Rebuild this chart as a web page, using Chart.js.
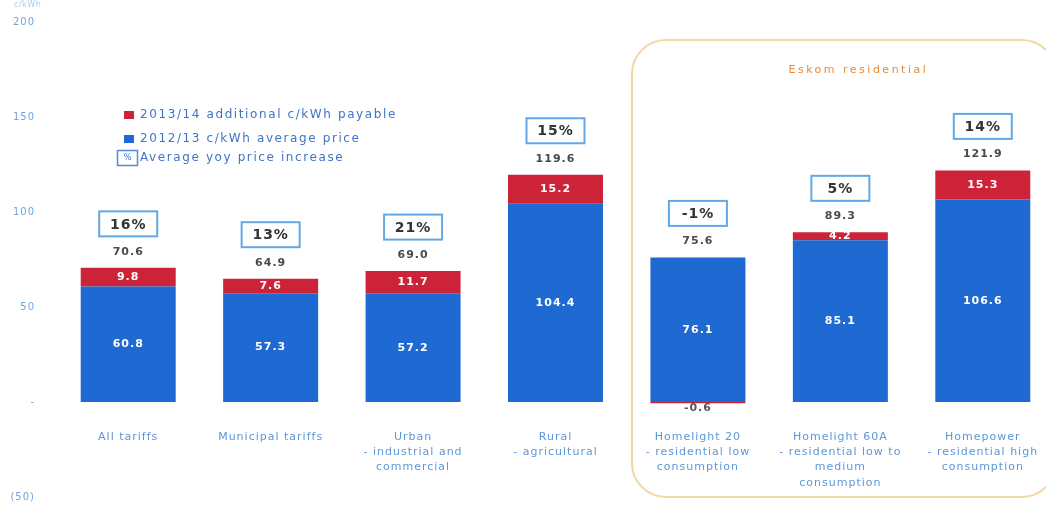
<!DOCTYPE html>
<html><head><meta charset="utf-8">
<script src="https://cdn.jsdelivr.net/npm/chart.js@4"></script>
<style>
html,body{margin:0;padding:0;background:#fff;overflow:hidden;width:1046px;height:505px}
#wrap{position:relative;width:1060px;height:505px}
</style></head>
<body><div id="wrap"><canvas id="c" width="1060" height="505"></canvas></div>
<script>
// ---- data ----
const categories = [
  ["All tariffs"],
  ["Municipal tariffs"],
  ["Urban", "- industrial and", "commercial"],
  ["Rural", "- agricultural"],
  ["Homelight 20", "- residential low", "consumption"],
  ["Homelight 60A", "- residential low to", "medium", "consumption"],
  ["Homepower", "- residential high", "consumption"]
];
const base2012 = [60.8, 57.3, 57.2, 104.4, 76.1, 85.1, 106.6];
const extra2013 = [9.8, 7.6, 11.7, 15.2, -0.6, 4.2, 15.3];
const totals = [70.6, 64.9, 69.0, 119.6, 75.6, 89.3, 121.9];
const yoyIncrease = ["16%", "13%", "21%", "15%", "-1%", "5%", "14%"];
const yTickLabels = {"-50": "(50)", "0": "-", "50": "50", "100": "100", "150": "150", "200": "200"};
const legendLabels = ["2013/14 additional c/kWh payable", "2012/13 c/kWh average price", "Average yoy price increase"];
const groupTitle = "Eskom residential";
const unitLabel = "c/kWh";

const BLUE = '#1e69d2', RED = '#cd2338', FONT = '"DejaVu Sans"';

const annot = {
  id: 'annot',
  beforeDraw(chart) {
    const c = chart.ctx, xs = chart.scales.x;
    c.save();
    const left = xs.getPixelForValue(4) - 66;
    c.strokeStyle = '#efd8a4'; c.lineWidth = 2;
    c.beginPath(); c.roundRect(left, 40, 1056 - left, 457, 34); c.stroke();
    c.letterSpacing = '2.5px'; c.fillStyle = '#ea8a33';
    c.font = '11px ' + FONT; c.textAlign = 'center'; c.textBaseline = 'middle';
    c.fillText(groupTitle, (xs.getPixelForValue(5)) + 18, 70);
    c.letterSpacing = '0.5px'; c.fillStyle = '#b3cdee'; c.font = '8px ' + FONT; c.textAlign = 'left';
    c.fillText(unitLabel, 14, 5);
    c.restore();
    c.letterSpacing = '1px';
  },
  afterDatasetsDraw(chart) {
    const c = chart.ctx;
    const m0 = chart.getDatasetMeta(0), m1 = chart.getDatasetMeta(1);
    c.save();
    c.textAlign = 'center'; c.textBaseline = 'middle';
    categories.forEach((_, i) => {
      const b = m0.data[i], r = m1.data[i];
      c.font = 'bold 11px ' + FONT; c.letterSpacing = '1px';
      c.fillStyle = '#ffffff';
      c.fillText(base2012[i].toFixed(1), b.x, (b.y + b.base) / 2);
      if (extra2013[i] >= 0) {
        c.fillText(extra2013[i].toFixed(1), r.x, (r.y + r.base) / 2);
      } else {
        c.fillStyle = '#555';
        c.fillText(extra2013[i].toFixed(1), r.x, r.y + 5);
      }
      const top = Math.min(b.y, r.y, b.base);
      c.fillStyle = '#4a4a4a';
      c.fillText(totals[i].toFixed(1), b.x, top - 16);
      const by = top - 44;
      c.fillStyle = '#fff'; c.fillRect(b.x - 29, by - 12.5, 58, 25);
      c.strokeStyle = '#62a8e6'; c.lineWidth = 2;
      c.strokeRect(b.x - 29, by - 12.5, 58, 25);
      c.font = 'bold 14px ' + FONT; c.letterSpacing = '1px'; c.fillStyle = '#333';
      c.fillText(yoyIncrease[i], b.x, by + 1);
    });
    c.restore();
  },
  afterDraw(chart) {
    const c = chart.ctx;
    c.save();
    c.textBaseline = 'middle'; c.textAlign = 'left';
    c.font = '12px ' + FONT; c.letterSpacing = '1.6px'; 
    c.fillStyle = RED; c.fillRect(124, 111, 10, 8);
    c.fillStyle = '#3f74c8'; c.fillText(legendLabels[0], 140, 115);
    c.fillStyle = BLUE; c.fillRect(124, 135, 10, 8);
    c.fillStyle = '#3f74c8'; c.fillText(legendLabels[1], 140, 139);
    c.strokeStyle = '#4f8fd8'; c.lineWidth = 1.5; c.strokeRect(117.5, 150.5, 20, 15);
    c.fillStyle = '#3f74c8'; c.fillText(legendLabels[2], 140, 158);
    c.font = '8px ' + FONT; c.letterSpacing = '0px'; c.textAlign = 'center';
    c.fillText('%', 127.5, 158);
    c.restore();
  }
};

new Chart(document.getElementById('c'), {
  type: 'bar',
  data: {
    labels: categories,
    datasets: [
      { label: legendLabels[1], data: base2012, backgroundColor: BLUE, stack: 's' },
      { label: legendLabels[0], data: extra2013, backgroundColor: RED, stack: 's' }
    ]
  },
  options: {
    responsive: false, animation: false, devicePixelRatio: 1,
    layout: { padding: { top: 22, bottom: 8, left: 0, right: 6 } },
    datasets: { bar: { categoryPercentage: 1, barPercentage: 0.667 } },
    plugins: { legend: { display: false }, tooltip: { enabled: false } },
    scales: {
      x: {
        stacked: true, position: { y: 0 },
        afterFit(s) { s.height = 0; },
        grid: { display: false, drawTicks: false }, border: { display: false },
        ticks: { padding: 27, color: '#5d97d8', maxRotation: 0, autoSkip: false,
                 font: { family: 'DejaVu Sans', size: 11, lineHeight: 1.4 } }
      },
      y: {
        stacked: true, min: -50, max: 200,
        afterFit(s) { s.width = 57; },
        grid: { display: false, drawTicks: true, tickLength: 22 }, border: { display: false },
        ticks: { stepSize: 50, padding: 0, color: '#6fa3df',
                 font: { family: 'DejaVu Sans', size: 10 },
                 callback: v => yTickLabels[String(v)] }
      }
    }
  },
  plugins: [annot]
});
</script>
</body></html>
